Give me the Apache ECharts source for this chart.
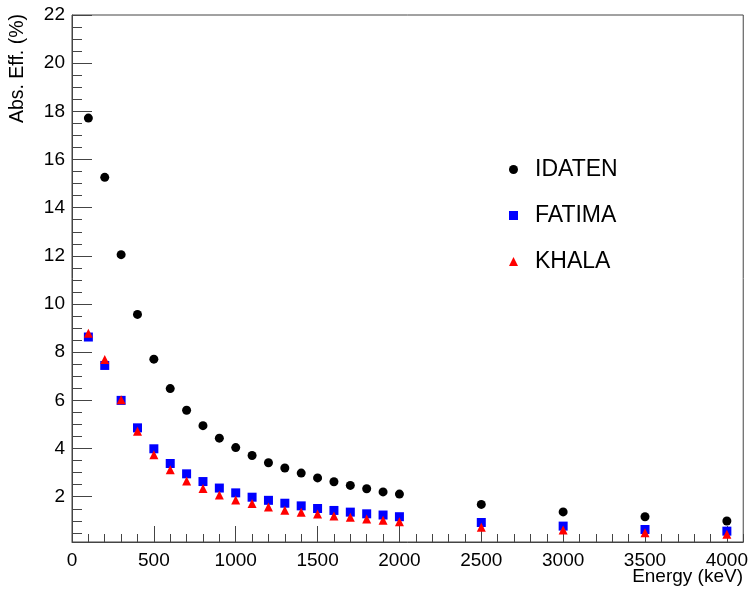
<!DOCTYPE html>
<html>
<head>
<meta charset="utf-8">
<script src="https://cdn.jsdelivr.net/npm/echarts@6/dist/echarts.min.js"></script>
<style>
html,body{margin:0;padding:0;background:#fff;}
#chart{width:751px;height:592px;}
</style>
</head>
<body>
<div id="chart"></div>
<script>
var energies = [100,200,300,400,500,600,700,800,900,1000,1100,1200,1300,1400,1500,1600,1700,1800,1900,2000,2500,3000,3500,4000];
var idaten = [17.72,15.26,12.05,9.57,7.71,6.49,5.59,4.95,4.43,4.04,3.71,3.41,3.19,2.98,2.78,2.62,2.47,2.33,2.20,2.11,1.68,1.37,1.17,0.99];
var fatima = [8.63,7.45,6.00,4.86,3.99,3.38,2.95,2.63,2.36,2.16,1.98,1.85,1.73,1.62,1.51,1.43,1.36,1.29,1.24,1.17,0.93,0.78,0.64,0.57];
var khala  = [8.79,7.70,6.03,4.72,3.74,3.12,2.65,2.34,2.07,1.86,1.72,1.57,1.44,1.36,1.28,1.20,1.15,1.07,1.02,0.96,0.73,0.62,0.50,0.44];
var xMajor = [0,500,1000,1500,2000,2500,3000,3500,4000];
var yMajor = [2,4,6,8,10,12,14,16,18,20,22];
var seriesNames = ['IDATEN','FATIMA','KHALA'];
var xTitle = 'Energy (keV)';
var yTitle = 'Abs. Eff. (%)';

function pairs(xs, ys){ return xs.map(function(x,i){ return [x, ys[i]]; }); }
var xMinor = []; for (var v = 100; v <= 4100; v += 100) if (v % 500 !== 0) xMinor.push(v);
var yMinor = []; for (var w = 0.5; w < 22; w += 0.5) if (w % 2 !== 0) yMinor.push(w);

var FONT = 'Liberation Sans, Arial, Helvetica, sans-serif';
var AX = '#444';
var chart = echarts.init(document.getElementById('chart'), null, {renderer:'canvas'});
chart.setOption({
  animation: false,
  backgroundColor: '#fff',
  grid: {left:72, right:7, top:15, bottom:50, show:true, borderColor:AX, borderWidth:1, backgroundColor:'transparent'},
  xAxis: [
    {type:'value', min:0, max:4100, position:'bottom',
     axisLine:{show:true, lineStyle:{color:AX, width:1}},
     axisTick:{show:true, inside:true, length:16, customValues:xMajor, lineStyle:{color:AX}},
     axisLabel:{show:true, customValues:xMajor, margin:9, color:'#000', fontSize:19, fontFamily:FONT,
                formatter:function(v){ return String(v); }},
     splitLine:{show:false}},
    {type:'value', min:0, max:4100, position:'bottom', offset:0,
     axisLine:{show:false},
     axisTick:{show:true, inside:true, length:8, customValues:xMinor, lineStyle:{color:AX}},
     axisLabel:{show:false}, splitLine:{show:false}}
  ],
  yAxis: [
    {type:'value', min:0.12, max:22, position:'left',
     axisLine:{show:true, lineStyle:{color:AX, width:1}},
     axisTick:{show:true, inside:true, length:20, customValues:yMajor, lineStyle:{color:AX}},
     axisLabel:{show:true, customValues:yMajor, margin:7, color:'#000', fontSize:19, fontFamily:FONT,
                formatter:function(v){ return String(v); }},
     splitLine:{show:false}},
    {type:'value', min:0.12, max:22, position:'left', offset:0,
     axisLine:{show:false},
     axisTick:{show:true, inside:true, length:10, customValues:yMinor, lineStyle:{color:AX}},
     axisLabel:{show:false}, splitLine:{show:false}}
  ],
  legend: {
    orient:'vertical', left:504, top:153, itemGap:23, itemWidth:9, itemHeight:9, itemTextGap:5,
    textStyle:{fontSize:23, lineHeight:22, color:'#000', fontFamily:FONT, padding:[0,0,0,12]},
    data:[{name:seriesNames[0], icon:'circle'},{name:seriesNames[1], icon:'rect'},{name:seriesNames[2], icon:'triangle'}]
  },
  graphic: [
    {type:'text', style:{text:xTitle, x:743, y:577, align:'right', verticalAlign:'middle', font:'19px ' + FONT, fill:'#000'}},
    {type:'text', x:18, y:14, rotation:Math.PI/2, style:{text:yTitle, x:0, y:0, align:'right', verticalAlign:'middle', font:'19.5px ' + FONT, fill:'#000'}}
  ],
  series: [
    {name:seriesNames[0], type:'scatter', xAxisIndex:0, yAxisIndex:0, symbol:'circle', symbolSize:9, itemStyle:{color:'#000', opacity:1}, data:pairs(energies, idaten)},
    {name:seriesNames[1], type:'scatter', xAxisIndex:0, yAxisIndex:0, symbol:'rect', symbolSize:9, itemStyle:{color:'#0000ff', opacity:1}, data:pairs(energies, fatima)},
    {name:seriesNames[2], type:'scatter', xAxisIndex:0, yAxisIndex:0, symbol:'triangle', symbolSize:9, itemStyle:{color:'#ff0000', opacity:1}, data:pairs(energies, khala)}
  ]
});
</script>
</body>
</html>
